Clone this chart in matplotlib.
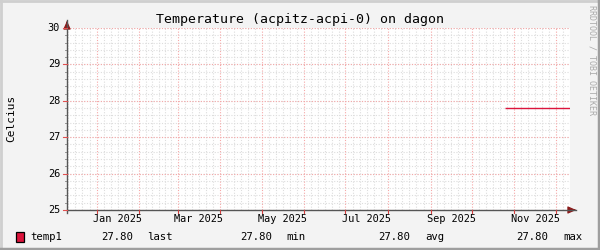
import matplotlib
matplotlib.use("Agg")
import matplotlib.pyplot as plt
import matplotlib.dates as mdates
from matplotlib.patches import Rectangle
from matplotlib.lines import Line2D
import numpy as np
import datetime as dt

# ---- data ----
title = "Temperature (acpitz-acpi-0) on dagon"
ylabel = "Celcius"
series_name = "temp1"
times = ["2025-10-25 06:00", "2025-12-11 10:00"]
values = [27.80, 27.80]
y_ticks = [25, 26, 27, 28, 29, 30]
x_start = "2024-12-10 10:00"
x_end = "2025-12-11 10:00"
label_months = ["2025-01", "2025-03", "2025-05", "2025-07", "2025-09", "2025-11"]

plt.rcParams['font.family'] = ['DejaVu Sans Mono']

W, H = 600, 250
fig = plt.figure(figsize=(6, 2.5), dpi=100)
fig.patch.set_facecolor("#F3F3F3")

L, R, T, B = 67, 570, 28, 210
ax = fig.add_axes([L / W, 1 - B / H, (R - L) / W, (B - T) / H])
ax.set_facecolor("white")

t0 = mdates.date2num(dt.datetime.fromisoformat(x_start))
t1 = mdates.date2num(dt.datetime.fromisoformat(x_end))
ax.set_xlim(t0, t1)
ax.set_ylim(min(y_ticks), max(y_ticks))

minor_col = "#DDDDDD"
major_col = "#F5A8A8"
dots = (0, (1, 1.5))
axis_col = "#555555"
arrow_col = "#8B1A1A"

def ypix(v):
    return B - (v - min(y_ticks)) / (max(y_ticks) - min(y_ticks)) * (B - T)

# horizontal minor
for v in np.arange(min(y_ticks), max(y_ticks) + 0.001, 0.2):
    ax.axhline(v, color=minor_col, lw=0.8, ls=dots, zorder=1)
    yy = ypix(v)
    fig.add_artist(Line2D([65 / W, L / W], [1 - yy / H, 1 - yy / H], color="#999999", lw=0.7))
# vertical minor: months divided into 6 parts
d = dt.datetime(2024, 12, 1)
month_starts = []
while d < dt.datetime(2026, 1, 2):
    month_starts.append(d)
    d = dt.datetime(d.year + (d.month // 12), d.month % 12 + 1, 1)
for a, b in zip(month_starts[:-1], month_starts[1:]):
    na, nb = mdates.date2num(a), mdates.date2num(b)
    for k in range(1, 6):
        ax.axvline(na + (nb - na) * k / 6, color=minor_col, lw=0.8, ls=dots, zorder=1)
# major
for v in y_ticks:
    ax.axhline(v, color=major_col, lw=0.8, ls=dots, zorder=2)
for m in month_starts:
    ax.axvline(mdates.date2num(m), color=major_col, lw=0.8, ls=dots, zorder=2)

# data
tnum = [mdates.date2num(dt.datetime.fromisoformat(t)) for t in times]
ax.plot(tnum, values, color="#DC143C", lw=1.0, zorder=5, solid_capstyle="butt")

for s in ax.spines.values():
    s.set_visible(False)
ax.set_xticks([])
ax.set_yticks([])

# axes lines with arrows
fig.add_artist(Line2D([L / W, 576 / W], [1 - B / H, 1 - B / H], color=axis_col, lw=1.0))
fig.add_artist(Line2D([L / W, L / W], [1 - (B + 3) / H, 1 - 20 / H], color=axis_col, lw=1.0))
ax.annotate("", xy=(579 / W, 1 - B / H), xytext=(571 / W, 1 - B / H), xycoords="figure fraction",
            arrowprops=dict(arrowstyle="-|>,head_length=0.5,head_width=0.22", color=arrow_col, lw=0.8))
ax.annotate("", xy=(L / W, 1 - 18 / H), xytext=(L / W, 1 - 26 / H), xycoords="figure fraction",
            arrowprops=dict(arrowstyle="-|>,head_length=0.5,head_width=0.22", color=arrow_col, lw=0.8))

# y tick labels and ticks
for v in y_ticks:
    yy = ypix(v)
    fig.text(60 / W, 1 - yy / H, f"{v}", ha="right", va="center", fontsize=7.4, color="black")
    fig.add_artist(Line2D([63 / W, L / W], [1 - yy / H, 1 - yy / H], color="#E05050", lw=0.8))

# x labels at mid-month
for m in label_months:
    ms = dt.datetime.fromisoformat(m + "-01")
    mid = mdates.date2num(ms + dt.timedelta(days=15))
    xx = L + (mid - t0) / (t1 - t0) * (R - L)
    fig.text(xx / W, 1 - 219.5 / H, ms.strftime("%b %Y"), ha="center", va="center", fontsize=7.4)
for m in month_starts:
    xm = L + (mdates.date2num(m) - t0) / (t1 - t0) * (R - L)
    if L <= xm <= R:
        fig.add_artist(Line2D([xm / W, xm / W], [1 - B / H, 1 - (B + 3) / H], color="#D04040", lw=0.8))

# title
fig.text(300 / W, 1 - 19 / H, title, ha="center", va="center", fontsize=9.5)
# y label
fig.text(11 / W, 1 - 118 / H, ylabel, ha="center", va="center", rotation=90, fontsize=8)
# watermark
fig.text(592 / W, 1 - 5 / H, "RRDTOOL / TOBI OETIKER", ha="center", va="top", rotation=270,
         fontsize=6, color="#AAAAAA")

# legend
fig.add_artist(Rectangle((15.5 / W, 1 - 241.5 / H), 8 / W, 10 / H, transform=fig.transFigure,
                         facecolor="#DC143C", edgecolor="black", lw=0.9))
last_v = values[-1]
min_v = min(values)
avg_v = float(np.mean(values))
max_v = max(values)
ly = 1 - 236.5 / H
fs = 7.7
fig.text(30 / W, ly, series_name, ha="left", va="center", fontsize=fs)
fig.text(133 / W, ly, f"{last_v:.2f}", ha="right", va="center", fontsize=fs)
fig.text(147 / W, ly, "last", ha="left", va="center", fontsize=fs)
fig.text(272 / W, ly, f"{min_v:.2f}", ha="right", va="center", fontsize=fs)
fig.text(286 / W, ly, "min", ha="left", va="center", fontsize=fs)
fig.text(410 / W, ly, f"{avg_v:.2f}", ha="right", va="center", fontsize=fs)
fig.text(425 / W, ly, "avg", ha="left", va="center", fontsize=fs)
fig.text(548 / W, ly, f"{max_v:.2f}", ha="right", va="center", fontsize=fs)
fig.text(563 / W, ly, "max", ha="left", va="center", fontsize=fs)

# border
fig.add_artist(Line2D([0, 1], [1 - 0.5 / H, 1 - 0.5 / H], color="#CFCFCF", lw=2))
fig.add_artist(Line2D([0.5 / W, 0.5 / W], [0, 1], color="#CFCFCF", lw=2))
fig.add_artist(Line2D([0, 1], [1 / H, 1 / H], color="#9E9E9E", lw=2.5))
fig.add_artist(Line2D([1 - 1 / W, 1 - 1 / W], [0, 1], color="#9E9E9E", lw=2.5))

fig.savefig("out.png", dpi=100, facecolor=fig.get_facecolor())
